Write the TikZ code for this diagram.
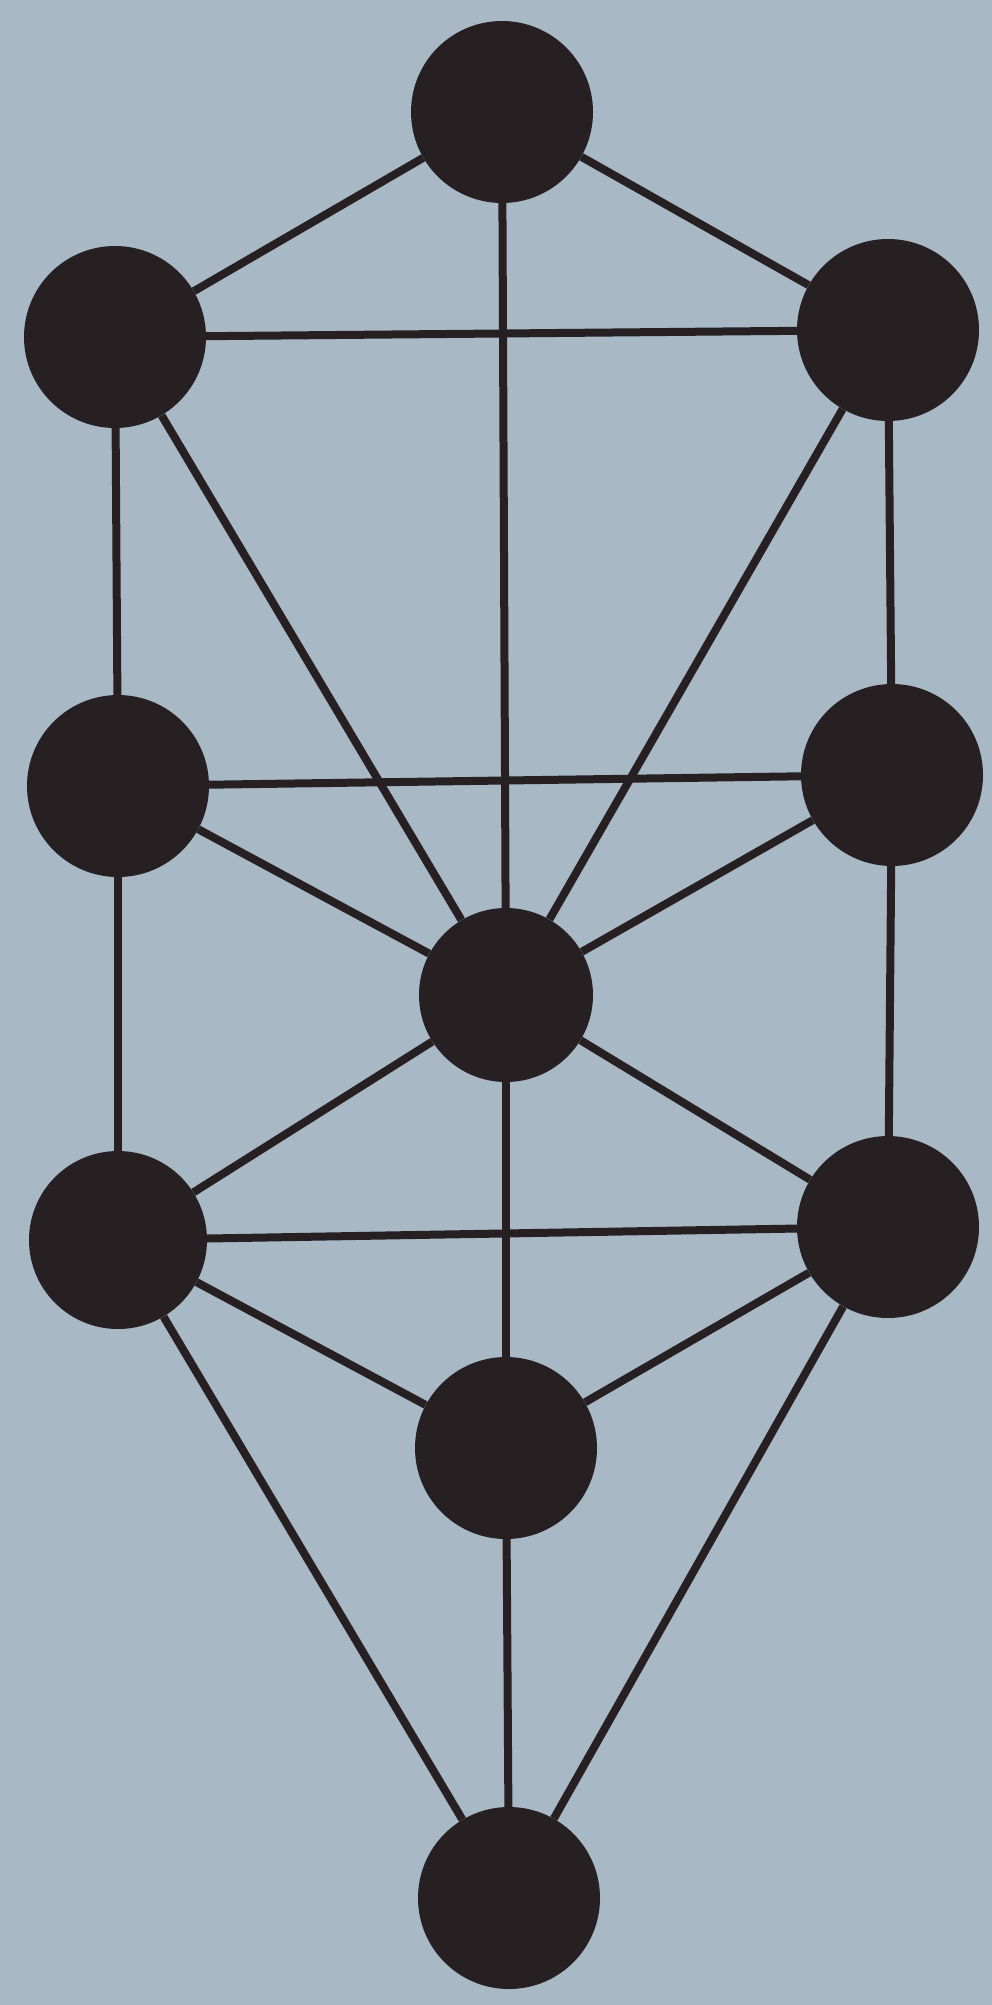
\documentclass[tikz,border=0pt]{standalone}
\begin{document}
\begin{tikzpicture}[x=1pt,y=-1pt,
  sephira/.style={circle,fill=ink,inner sep=0pt,minimum size=182pt},
  path22/.style={draw=ink,line width=8pt}]
\definecolor{bg}{HTML}{A9B8C5}
\definecolor{ink}{HTML}{262023}
\fill[bg] (0,0) rectangle (992,2005);
\useasboundingbox (0,0) rectangle (992,2005);
\node[sephira] (kether) at (502,112) {};
\node[sephira] (chokmah) at (888,330) {};
\node[sephira] (binah) at (115,337) {};
\node[sephira] (chesed) at (892,775) {};
\node[sephira] (geburah) at (118,786) {};
\node[sephira,minimum size=174pt] (tiphareth) at (506,995) {};
\node[sephira] (netzach) at (888,1227) {};
\node[sephira,minimum size=178pt] (hod) at (118,1240) {};
\node[sephira] (yesod) at (506,1448) {};
\node[sephira] (malkuth) at (509,1898) {};
\foreach \a/\b in {kether/chokmah,kether/binah,kether/tiphareth,binah/chokmah,
  binah/geburah,binah/tiphareth,chokmah/chesed,chokmah/tiphareth,
  geburah/chesed,geburah/tiphareth,geburah/hod,chesed/tiphareth,chesed/netzach,
  tiphareth/hod,tiphareth/netzach,tiphareth/yesod,hod/netzach,hod/yesod,
  hod/malkuth,netzach/yesod,netzach/malkuth,yesod/malkuth}
  \draw[path22] (\a) -- (\b);
\end{tikzpicture}
\end{document}
